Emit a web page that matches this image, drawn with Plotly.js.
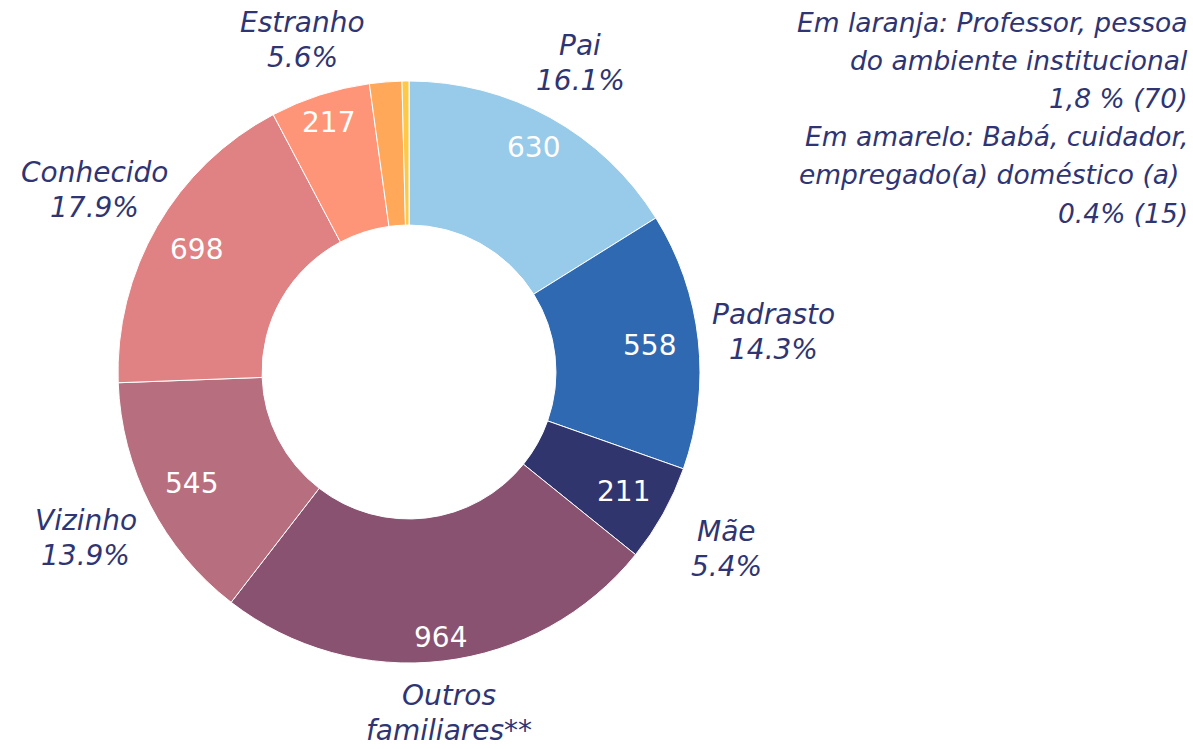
<!DOCTYPE html>
<html><head><meta charset="utf-8">
<script src="https://cdn.plot.ly/plotly-3.0.1.min.js"></script>
<style>html,body{margin:0;padding:0;background:#fff;}#chart{width:1193px;height:749px;}</style>
</head><body><div id="chart"></div>
<script>
const labels = ['Pai','Padrasto','Mãe','Outros<br>familiares**','Vizinho','Conhecido','Estranho','Professor, pessoa do ambiente institucional','Babá, cuidador, empregado(a) doméstico (a)'];
const values = [630,558,211,964,545,698,217,70,15];
const showLabel = [true,true,true,true,true,true,true,false,false];
const showPercent = [true,true,true,false,true,true,true,false,false];
const colors = ['#98cbe9','#2e69b1','#30356e','#8a5271','#b76f80','#e08283','#ff9578','#ffa85a','#ffc845'];
const noteLines = ['Em laranja: Professor, pessoa','do ambiente institucional','1,8 % (70)','Em amarelo: Babá, cuidador,','empregado(a) doméstico (a) ','0.4% (15)'];

const W = 1193, H = 749;
const cx = 409, cy = 372, R = 291;
const textColor = '#2f3572';
const fontFam = '"DejaVu Sans", "Noto Sans", sans-serif';
const labelSize = 28, numSize = 28, noteSize = 26.5;
const labelGap = 35, noteGap = 38.2;

const total = values.reduce((a,b)=>a+b,0);
const annotations = [];
function addText(px, py, txt, size, color, xanchor, italic){
  annotations.push({
    xref:'paper', yref:'paper', x: px/W, y: 1 - py/H,
    xanchor: xanchor, yanchor:'middle', showarrow:false, align:'center',
    text: italic ? '<i>' + txt + '</i>' : txt,
    font:{family:fontFam, size:size, color:color}
  });
}
let cum = 0;
values.forEach((v,i)=>{
  const mid = (cum + v/2)/total * 2*Math.PI;
  cum += v;
  if(!showLabel[i]) return;
  const s = Math.sin(mid), c = Math.cos(mid);
  // outside category label
  const r = R*(1.17 + 0.09*Math.abs(s));
  const px = cx + r*s, py = cy - r*c;
  const lines = labels[i].split('<br>');
  if(showPercent[i]) lines.push((v/total*100).toFixed(1) + '%');
  const n = lines.length;
  lines.forEach((ln,k)=>{
    addText(px, py + (k - (n-1)/2)*labelGap, ln, labelSize, textColor, 'center', true);
  });
  // inside value label
  const ri = R*(0.93 - 0.1*Math.abs(s));
  addText(cx + ri*s, cy - ri*c, String(v), numSize, '#ffffff', 'center', false);
});
noteLines.forEach((ln,k)=>{
  addText(1190, 22 + k*noteGap, ln, noteSize, textColor, 'right', true);
});

const trace = {
  type:'pie', values: values, labels: labels, sort:false, direction:'clockwise', rotation:0,
  hole:0.505,
  marker:{colors: colors, line:{color:'#ffffff', width:1}},
  textinfo:'none',
  domain:{x:[(cx-R)/W,(cx+R)/W], y:[(H-cy-R)/H,(H-cy+R)/H]},
  showlegend:false, hoverinfo:'label+value+percent'
};

Plotly.newPlot('chart',[trace],{
  width:W, height:H, margin:{l:0,r:0,t:0,b:0},
  paper_bgcolor:'#ffffff', plot_bgcolor:'#ffffff',
  showlegend:false, annotations: annotations,
  font:{family:fontFam}
},{displayModeBar:false, staticPlot:true});
</script></body></html>
